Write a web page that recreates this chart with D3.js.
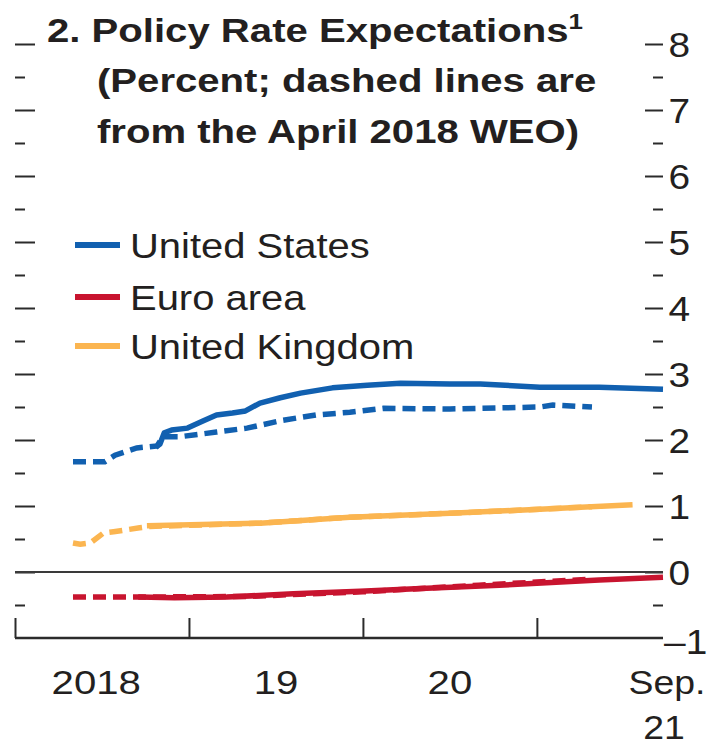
<!DOCTYPE html>
<html>
<head>
<meta charset="utf-8">
<script src="https://cdn.jsdelivr.net/npm/d3@7"></script>
<style>
  html, body { margin: 0; padding: 0; background: #fff; }
  svg { display: block; }
  text { font-family: "Liberation Sans", Arial, sans-serif; fill: #231f20; }
</style>
</head>
<body>
<div id="chart"></div>
<script>
// ---- Data (x = months since Jan 2018) ----
const seriesNames = ["United States", "Euro area", "United Kingdom"];
const seriesColors = ["#1160b0", "#c8142f", "#fbb550"];

const usCurrentMonths = [9.7, 10.0, 10.3, 10.8, 11.9, 13.0, 13.9, 15.0, 15.9, 16.9, 18.3, 19.7, 21.9, 24.3, 26.6, 30.0, 32.1, 36.2, 40.3, 44.7];
const usCurrentValues = [1.89, 1.94, 2.11, 2.15, 2.18, 2.29, 2.38, 2.41, 2.44, 2.56, 2.64, 2.71, 2.79, 2.83, 2.86, 2.85, 2.85, 2.80, 2.80, 2.77];

const usAprilMonths = [4.0, 6.2, 6.9, 8.4, 9.8, 10.2, 11.4, 13.9, 16.0, 18.5, 20.8, 23.1, 25.4, 30.0, 36.2, 37.1, 39.8];
const usAprilValues = [1.67, 1.67, 1.77, 1.88, 1.91, 2.05, 2.05, 2.12, 2.18, 2.30, 2.38, 2.42, 2.48, 2.47, 2.50, 2.53, 2.50];

const euCurrentMonths = [8.5, 11.0, 14.6, 19.2, 23.8, 28.0, 33.4, 37.0, 40.3, 44.7];
const euCurrentValues = [-0.38, -0.39, -0.38, -0.33, -0.29, -0.25, -0.20, -0.16, -0.12, -0.08];

const euAprilMonths = [4.0, 8.5, 16.0, 24.0, 32.0, 37.0, 39.8];
const euAprilValues = [-0.38, -0.38, -0.37, -0.30, -0.20, -0.14, -0.11];

const ukCurrentMonths = [9.1, 16.9, 23.1, 30.0, 36.2, 42.6];
const ukCurrentValues = [0.70, 0.74, 0.83, 0.89, 0.95, 1.02];

const ukAprilMonths = [4.0, 4.5, 5.2, 6.1, 6.8, 8.6, 9.3, 16.9, 23.1, 30.0, 36.2, 39.8];
const ukAprilValues = [0.44, 0.42, 0.44, 0.59, 0.61, 0.67, 0.69, 0.74, 0.83, 0.89, 0.95, 0.99];

const yMajorTicks = [-1, 0, 1, 2, 3, 4, 5, 6, 7, 8];
const yMinorTicks = [-0.5, 0.5, 1.5, 2.5, 3.5, 4.5, 5.5, 6.5, 7.5];
const xYearTicks = [0, 12, 24, 36];
const xLabels = ["2018", "19", "20"];
const xLabelMonths = [5.6, 18, 30];
const xEndLabel = ["Sep.", "21"];

const titleLines = ["2. Policy Rate Expectations", "(Percent; dashed lines are", "from the April 2018 WEO)"];

// ---- Layout ----
const W = 717, H = 746;
const svg = d3.select("#chart").append("svg").attr("width", W).attr("height", H);

const x = d3.scaleLinear().domain([0, 44.7]).range([15, 663]);
const y = d3.scaleLinear().domain([-1, 8]).range([638, 44]);

const axisColor = "#2b2b2b";

// helper: text placed at (px,py), stretched horizontally by sx
function stretchedText(parent, px, py, sx, str) {
  return parent.append("text")
    .attr("transform", `translate(${px},${py}) scale(${sx},1)`)
    .text(str);
}

// Left ticks
const leftMajor = svg.append("g").attr("transform", `translate(${x(0)},0)`)
  .call(d3.axisLeft(y).tickValues(yMajorTicks.filter(v => v > -1)).tickSize(-20).tickFormat(""));
const leftMinor = svg.append("g").attr("transform", `translate(${x(0)},0)`)
  .call(d3.axisLeft(y).tickValues(yMinorTicks).tickSize(-10).tickFormat(""));
// Right ticks + labels
const rightMajor = svg.append("g").attr("transform", `translate(${x(44.7)},0)`)
  .call(d3.axisRight(y).tickValues(yMajorTicks).tickSize(-18).tickPadding(5)
    .tickFormat(d => d < 0 ? "\u2013" + Math.abs(d) : d));
const rightMinor = svg.append("g").attr("transform", `translate(${x(44.7)},0)`)
  .call(d3.axisRight(y).tickValues(yMinorTicks).tickSize(-10).tickFormat(""));

[leftMajor, leftMinor, rightMajor, rightMinor].forEach(g => {
  g.select(".domain").remove();
  g.selectAll(".tick line").attr("stroke", axisColor).attr("stroke-width", 2);
});
rightMajor.selectAll(".tick text")
  .attr("font-size", 36).attr("fill", "#231f20")
  .style("font-family", '"Liberation Sans", Arial, sans-serif')
  .attr("dy", "0.36em")
  .attr("transform", "scale(1.08,1)");
rightMajor.selectAll(".tick").filter(d => d === -1).select("line").remove();
rightMajor.selectAll(".tick").filter(d => d === -1).select("text").attr("dy", "0.42em").attr("x", 1);

// Zero line
svg.append("line")
  .attr("x1", x(0)).attr("x2", x(44.7)).attr("y1", y(0)).attr("y2", y(0))
  .attr("stroke", "#3a3a3a").attr("stroke-width", 2);

// Bottom axis
const bottom = svg.append("g").attr("transform", `translate(0,${y(-1)})`)
  .call(d3.axisTop(x).tickValues(xYearTicks).tickSize(20).tickFormat(""));
bottom.select(".domain").attr("d", `M${x(0)},0H${x(44.7)}`).attr("stroke", axisColor).attr("stroke-width", 2.5);
bottom.selectAll(".tick line").attr("stroke", axisColor).attr("stroke-width", 2);

// X labels
const xl = svg.append("g").attr("font-size", 34).attr("text-anchor", "middle");
xLabels.forEach((d, i) => stretchedText(xl, x(xLabelMonths[i]), 694, 1.18, d));
stretchedText(xl, x(44.7) + 4, 694, 1.1, xEndLabel[0]);
stretchedText(xl, x(44.7) + 1, 739, 1.1, xEndLabel[1]);

// Lines
const line = d3.line().x(d => x(d[0])).y(d => y(d[1])).curve(d3.curveLinear);
const zip = (a, b) => a.map((v, i) => [v, b[i]]);

const dashedSeries = [
  { pts: zip(euAprilMonths, euAprilValues), color: seriesColors[1] },
  { pts: zip(ukAprilMonths, ukAprilValues), color: seriesColors[2] },
  { pts: zip(usAprilMonths, usAprilValues), color: seriesColors[0] }
];
const solidSeries = [
  { pts: zip(euCurrentMonths, euCurrentValues), color: seriesColors[1] },
  { pts: zip(ukCurrentMonths, ukCurrentValues), color: seriesColors[2] },
  { pts: zip(usCurrentMonths, usCurrentValues), color: seriesColors[0] }
];

svg.append("g").selectAll("path").data(dashedSeries).join("path")
  .attr("d", d => line(d.pts)).attr("fill", "none")
  .attr("stroke", d => d.color).attr("stroke-width", 5.5)
  .attr("stroke-dasharray", "13,7");
svg.append("g").selectAll("path").data(solidSeries).join("path")
  .attr("d", d => line(d.pts)).attr("fill", "none")
  .attr("stroke", d => d.color).attr("stroke-width", 5.5)
  .attr("stroke-linejoin", "round");

// Legend
const legend = svg.append("g").attr("font-size", 36);
const legendY = [245, 297, 346];
seriesNames.forEach((name, i) => {
  legend.append("line").attr("x1", 75).attr("x2", 120)
    .attr("y1", legendY[i]).attr("y2", legendY[i])
    .attr("stroke", seriesColors[i]).attr("stroke-width", 6);
  stretchedText(legend, 130, legendY[i] + 13, 1.11, name);
});

// Title
const title = svg.append("g").attr("font-weight", "bold").attr("font-size", 34);
stretchedText(title, 47, 42, 1.18, titleLines[0])
  .append("tspan").attr("font-size", 22).attr("dy", -13).text("1");
stretchedText(title, 97, 92, 1.18, titleLines[1]);
stretchedText(title, 97, 143, 1.18, titleLines[2]);
</script>
</body>
</html>
